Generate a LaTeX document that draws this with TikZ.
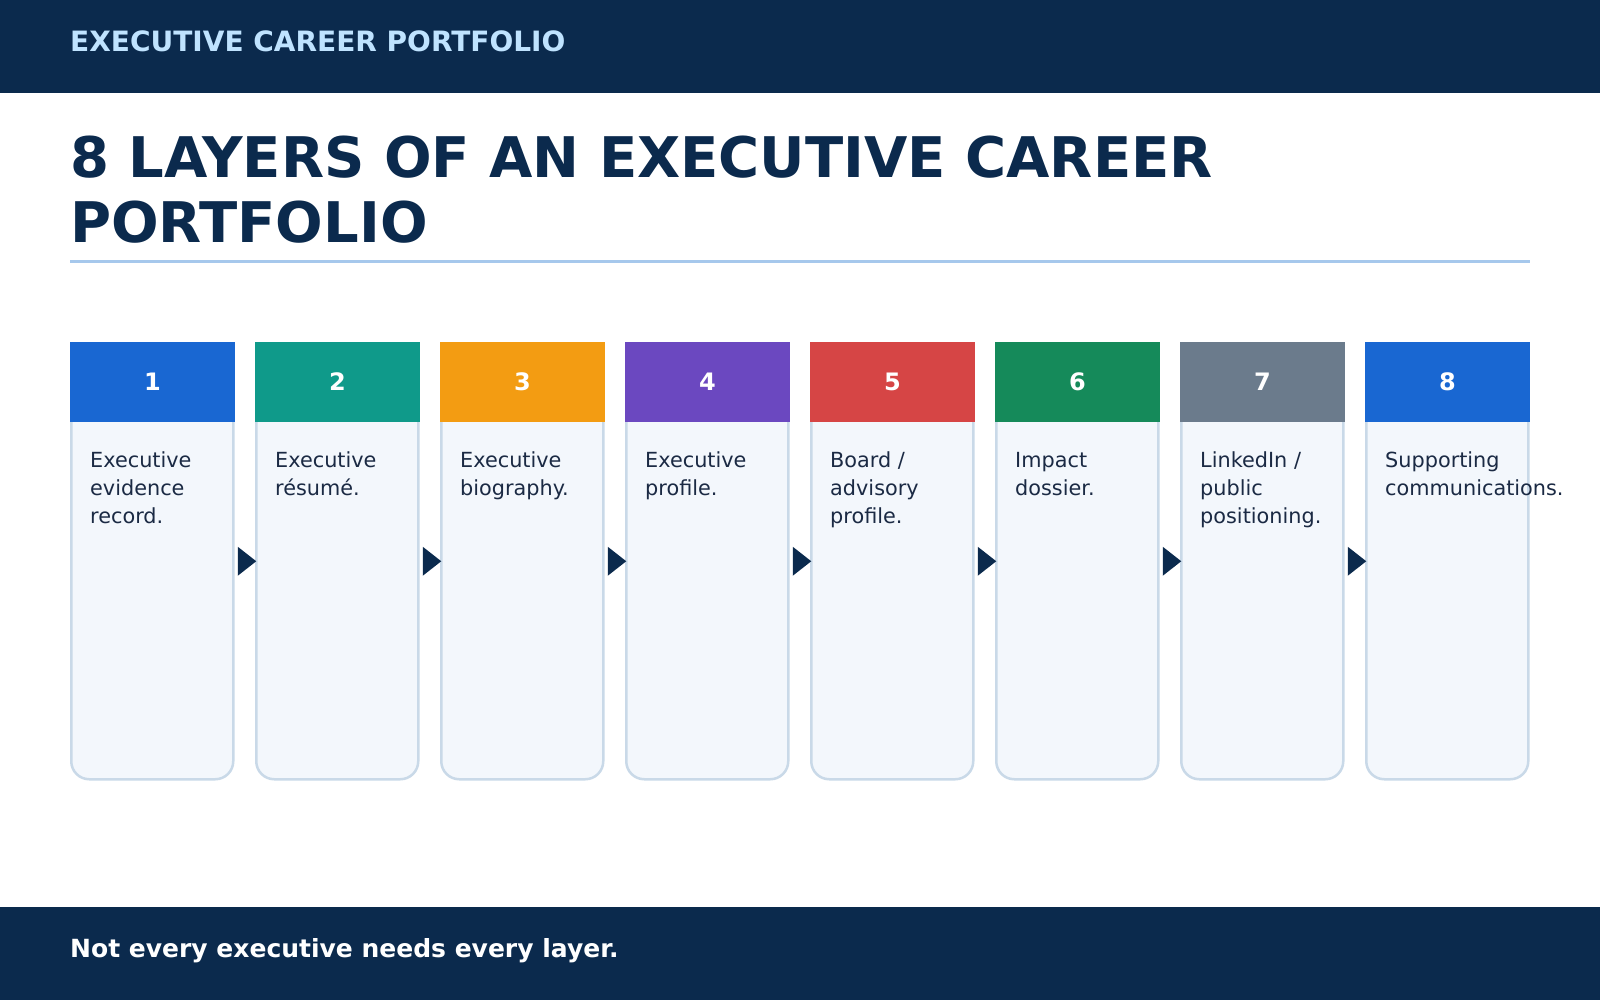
\documentclass[tikz,border=0pt]{standalone}
\usepackage{fontspec}
\setmainfont{DejaVu Sans}
\usetikzlibrary{calc}
\definecolor{navy}{HTML}{0B2A4D}
\definecolor{headtxt}{HTML}{BFE3FF}
\definecolor{divline}{HTML}{A6C8EC}
\definecolor{cardline}{HTML}{C9D9E8}
\definecolor{cardfill}{HTML}{F3F7FC}
\definecolor{bodytxt}{HTML}{1B2A44}
\definecolor{cA}{HTML}{1967D2}
\definecolor{cB}{HTML}{0F9A8A}
\definecolor{cC}{HTML}{F39C12}
\definecolor{cD}{HTML}{6B48C0}
\definecolor{cE}{HTML}{D64545}
\definecolor{cF}{HTML}{158A5A}
\definecolor{cG}{HTML}{6B7B8C}
\tikzset{
  cardbody/.style={draw=cardline, line width=2.5pt, fill=cardfill, rounded corners=18pt,
    minimum width=162pt, minimum height=436pt, inner sep=0pt, outer sep=0pt, anchor=north west},
  cardhead/.style={minimum width=165pt, minimum height=80pt, inner sep=0pt, outer sep=0pt,
    anchor=north west, text=white, font=\bfseries\fontsize{24}{28}\selectfont},
  cardtext/.style={anchor=base west, align=left, inner sep=0pt, text=bodytxt,
    font=\fontsize{20.8}{28}\selectfont},
  flowtip/.style={fill=navy},
}
\begin{document}
\begin{tikzpicture}[x=1pt,y=-1pt]
\useasboundingbox (0,0) rectangle (1600,1000);
\fill[white] (0,0) rectangle (1600,1000);
% top bar
\fill[navy] (0,0) rectangle (1600,93);
\node[anchor=base west, inner sep=0pt, text=headtxt, font=\bfseries\fontsize{28}{32}\selectfont] (kicker) at (70,52) {EXECUTIVE CAREER PORTFOLIO};
% title
\node[anchor=base west, inner sep=0pt, text=navy, font=\bfseries\fontsize{56}{65}\selectfont] (title1) at (70,178) {8 LAYERS OF AN EXECUTIVE CAREER};
\node[anchor=base west, inner sep=0pt, text=navy, font=\bfseries\fontsize{56}{65}\selectfont] (title2) at (70,243) {PORTFOLIO};
\draw[divline, line width=3pt] (70,262) -- (1530,262);
% cards
\foreach \i/\c/\n/\t in {1/cA/3/{Executive\\evidence\\record.},
                      2/cB/2/{Executive\\résumé.},
                      3/cC/2/{Executive\\biography.},
                      4/cD/2/{Executive\\profile.},
                      5/cE/3/{Board /\\advisory\\profile.},
                      6/cF/2/{Impact\\dossier.},
                      7/cG/3/{LinkedIn /\\public\\positioning.},
                      8/cA/2/{Supporting\\communications.}}{
  \pgfmathsetmacro{\xl}{70+185*(\i-1)}
  \pgfmathsetmacro{\yb}{467+28*(\n-1)}
  \node[cardbody] (b\i) at (\xl+1.25,343.25) {};
  \node[cardhead, fill=\c] (h\i) at (\xl,342) {\i};
  \node[cardtext] (t\i) at (\xl+20,\yb) {\t};
}
% arrows
\foreach \i [evaluate=\i as \j using int(\i+1)] in {1,...,7}{
  \fill[flowtip] ($(b\i.east)+(4.5,-14.5)$) -- ($(b\i.east)+(4.5,14.5)$) -- (b\j.west) -- cycle;
}
% footer
\fill[navy] (0,907) rectangle (1600,1000);
\node[anchor=base west, inner sep=0pt, text=white, font=\bfseries\fontsize{25}{30}\selectfont] (foot) at (70,957) {Not every executive needs every layer.};
\end{tikzpicture}
\end{document}
